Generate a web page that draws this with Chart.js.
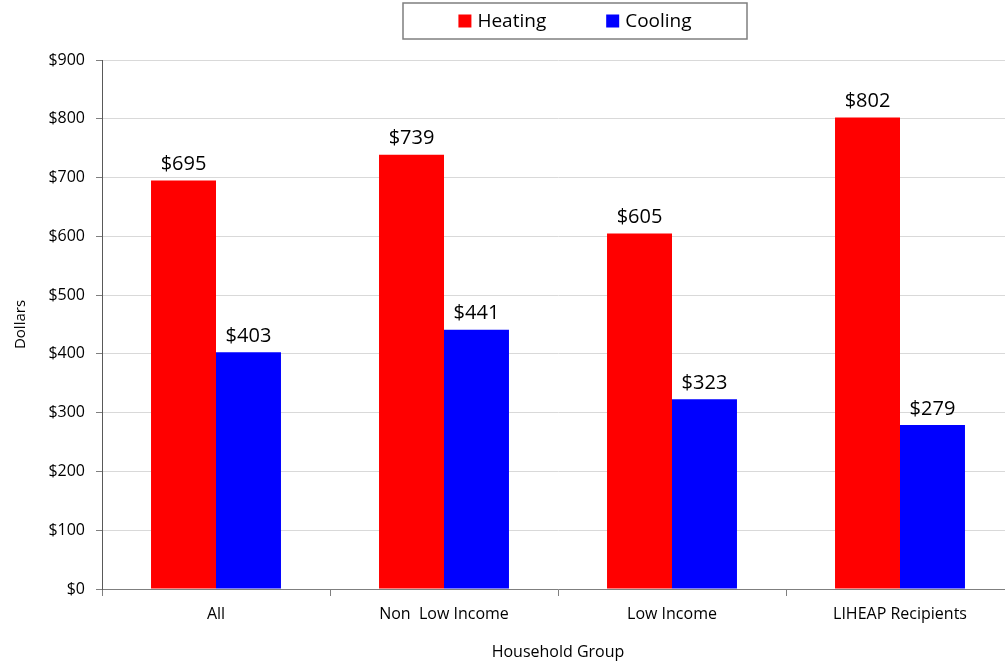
<!DOCTYPE html>
<html>
<head>
<meta charset="utf-8">
<script src="https://cdn.jsdelivr.net/npm/chart.js@4.4.0/dist/chart.umd.min.js"></script>
<style>
  html, body { margin: 0; padding: 0; background: #fff; overflow: hidden; }
  /* plot runs slightly past the right edge of the window, as in the original */
  #wrap { width: 1014px; height: 666px; }
</style>
</head>
<body>
<div id="wrap"><canvas id="costChart"></canvas></div>
<script>
var categories = ["All", "Non  Low Income", "Low Income", "LIHEAP Recipients"];
var heating = [695, 739, 605, 802];
var cooling = [403, 441, 323, 279];
var yMax = 900;
var yStep = 100;

var FONT = "'Open Sans', 'Noto Sans', sans-serif";

// value labels above each bar
var valueLabels = {
  id: 'valueLabels',
  afterDatasetsDraw: function (chart) {
    var ctx = chart.ctx;
    ctx.save();
    ctx.font = "20px " + FONT;
    ctx.fillStyle = "#000";
    ctx.textAlign = "center";
    ctx.textBaseline = "bottom";
    chart.data.datasets.forEach(function (ds, i) {
      chart.getDatasetMeta(i).data.forEach(function (bar, j) {
        ctx.fillText("$" + ds.data[j], bar.x, bar.y - 6);
      });
    });
    ctx.restore();
  }
};

// boxed legend at the top
var boxLegend = {
  id: 'boxLegend',
  afterDraw: function (chart) {
    var ctx = chart.ctx;
    var boxX = 403, boxY = 3, boxW = 344, boxH = 36;
    ctx.save();
    ctx.strokeStyle = "#7f7f7f";
    ctx.lineWidth = 1.5;
    ctx.strokeRect(boxX, boxY, boxW, boxH);
    ctx.font = "19px " + FONT;
    var sq = 13, gap = 6, between = 60;
    var items = chart.data.datasets.map(function (ds) {
      return { text: ds.label, color: ds.backgroundColor, w: ctx.measureText(ds.label).width };
    });
    var total = 0;
    items.forEach(function (it, k) { total += sq + gap + it.w + (k ? between : 0); });
    var x = boxX + (boxW - total) / 2;
    var cy = boxY + boxH / 2;
    ctx.textBaseline = "middle";
    items.forEach(function (it, k) {
      if (k) x += between;
      ctx.fillStyle = it.color;
      ctx.fillRect(x, cy - sq / 2, sq, sq);
      x += sq + gap;
      ctx.fillStyle = "#000";
      ctx.fillText(it.text, x, cy + 1);
      x += it.w;
    });
    ctx.restore();
  }
};

var ctxCost = document.getElementById("costChart");
var costChart = new Chart(ctxCost, {
  type: 'bar',
  data: {
    labels: categories,
    datasets: [
      {
        label: "Heating",
        backgroundColor: "#ff0000",
        data: heating
      },
      {
        label: "Cooling",
        backgroundColor: "#0000ff",
        data: cooling
      }]
  },
  options: {
    responsive: true,
    maintainAspectRatio: false,
    animation: false,
    layout: { padding: { top: 60, right: 0, left: 0, bottom: 0 } },
    datasets: {
      bar: { categoryPercentage: 0.57, barPercentage: 1.0 }
    },
    plugins: {
      legend: { display: false },
      tooltip: { enabled: false }
    },
    scales: {
      x: {
        afterFit: function (s) { s.height = 77; },
        grid: {
          offset: true,
          drawOnChartArea: false,
          tickLength: 7,
          tickColor: "#7f7f7f"
        },
        border: { color: "#7f7f7f", width: 1 },
        ticks: { color: "#000", font: { family: FONT, size: 16 }, padding: 9 },
        title: {
          display: true,
          text: "Household Group",
          color: "#000",
          font: { family: FONT, size: 16 },
          padding: { top: 0, bottom: 4 }
        }
      },
      y: {
        min: 0,
        max: yMax,
        afterFit: function (s) { s.width = 102; },
        grid: { color: "#d9d9d9", tickLength: 6, tickColor: "#7f7f7f" },
        border: { color: "#595959", width: 1 },
        ticks: {
          stepSize: yStep,
          color: "#000",
          padding: 11,
          font: { family: FONT, size: 16 },
          callback: function (v) { return "$" + v; }
        },
        title: {
          display: true,
          text: "Dollars",
          color: "#000",
          font: { family: FONT, size: 15 },
          padding: { top: 12, bottom: 0 }
        }
      }
    }
  },
  plugins: [valueLabels, boxLegend]
});
</script>
</body>
</html>
